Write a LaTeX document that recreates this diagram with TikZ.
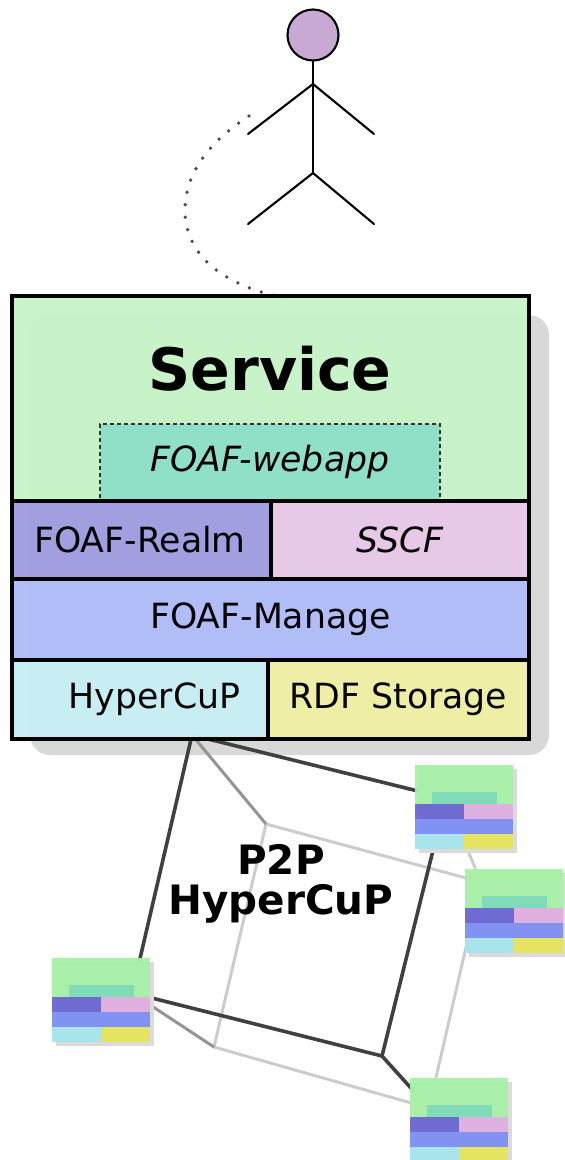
\documentclass[tikz,border=0pt]{standalone}
\usepackage{fontspec}
\setmainfont{DejaVu Sans}
\usepackage{tikz}
\usetikzlibrary{positioning}

\definecolor{headc}{HTML}{C8A9D4}
\definecolor{servicec}{HTML}{C8F4C8}
\definecolor{webappc}{HTML}{90DFC8}
\definecolor{realmc}{HTML}{A09EE0}
\definecolor{sscfc}{HTML}{E8C8E8}
\definecolor{managec}{HTML}{B0BDF8}
\definecolor{hypercupc}{HTML}{C8EEF4}
\definecolor{storagec}{HTML}{EFEFA5}
\definecolor{shadec}{HTML}{D8D8D8}
\definecolor{peergreen}{HTML}{A8F0A8}
\definecolor{peerteal}{HTML}{80DCB8}
\definecolor{peerviolet}{HTML}{6C68D0}
\definecolor{peerpink}{HTML}{E0B0E0}
\definecolor{peerblue}{HTML}{8090F4}
\definecolor{peercyan}{HTML}{A8E4EC}
\definecolor{peeryellow}{HTML}{E4E460}

\tikzset{
 layer/.style={draw=black, line width=3.4pt, anchor=north west, inner sep=0pt, outer sep=0pt, fill opacity=.98, font=\fontsize{34.7}{40}\selectfont},
 limb/.style={line width=2.1pt, line cap=round},
 frontedge/.style={line width=3.6pt, draw=black!75},
 midedge/.style={line width=3pt, draw=black!42},
 backedge/.style={line width=3pt, draw=black!20},
 peerpart/.style={anchor=north west, inner sep=0pt, outer sep=0pt, minimum height=15pt}
}

\begin{document}
\begin{tikzpicture}[x=1pt,y=-1pt]
 \useasboundingbox (0,0) rectangle (565,1160);
 % person
 \node (head) [circle, draw, line width=2.1pt, fill=headc, minimum size=51pt, inner sep=0pt] at (313,35) {};
 \coordinate (neck) at (313,84);
 \coordinate (hip) at (313,173);
 \coordinate (handl) at (248,134);
 \coordinate (handr) at (374,134);
 \coordinate (footl) at (248,224);
 \coordinate (footr) at (374,224);
 \draw[limb] (head) -- (neck) -- (hip);
 \draw[limb] (handl) -- (neck) -- (handr);
 \draw[limb] (footl) -- (hip) -- (footr);
 % link from person to service
 \coordinate (linkstart) at (249,116);
 \coordinate (linkmid) at (185,210);
 \coordinate (linkend) at (290,299);
 \draw[line width=3.8pt, line cap=round, dash pattern=on 0pt off 12.6pt, black!70]
  (linkstart) .. controls (207,143) and (185,175) .. (linkmid)
  .. controls (185,250) and (215,285) .. (linkend);
 % shadow
 \fill[shadec, rounded corners=20pt] (30,315) rectangle (549,755);
 % cube
 \coordinate (hc) at (192,735);
 \coordinate (back) at (266,824);
 \coordinate (low) at (214,1047);
 \coordinate (front) at (382,1056);
 \coordinate (pa) at (446,798);
 \coordinate (pb) at (481,882);
 \coordinate (pc) at (429,1108);
 \coordinate (pd) at (132,993);
 \draw[backedge] (back) -- (pb) -- (pc) -- (low) -- (back);
 \draw[backedge] (pa) -- (pb);
 \draw[midedge] (hc) -- (back);
 \draw[midedge] (pd) -- (low);
 \draw[frontedge] (hc) -- (pa) -- (front) -- (pd) -- (hc);
 \draw[frontedge] (front) -- (pc);
 % service stack
 \node (service) [layer, fill=servicec, minimum width=517pt, minimum height=205pt] at (12,296) {};
 \node (title) at (270,369) {\fontsize{58.5}{60}\selectfont\bfseries Service};
 \node (webapp) [draw=black!80, line width=1.6pt, dash pattern=on 4pt off 3pt, fill=webappc, anchor=north west, inner sep=0pt, outer sep=0pt, minimum width=340pt, minimum height=76pt, font=\fontsize{34.7}{40}\selectfont\itshape] at (100,424) {\raisebox{-1.5pt}{FOAF-webapp}};
 \node (realm) [layer, fill=realmc, minimum width=259pt, minimum height=78pt] at (12,501) {\hspace*{-3pt}\raisebox{-1pt}{FOAF-Realm}};
 \node (sscf) [layer, fill=sscfc, minimum width=258pt, minimum height=78pt, font=\fontsize{34.7}{40}\selectfont\itshape] at (271,501) {\raisebox{-1pt}{SSCF}};
 \node (manage) [layer, fill=managec, minimum width=517pt, minimum height=81pt] at (12,579) {\raisebox{-1pt}{FOAF-Manage}};
 \node (hypercup) [layer, fill=hypercupc, minimum width=256pt, minimum height=79pt] at (12,660) {\hspace*{29pt}\raisebox{-1pt}{HyperCuP}};
 \node (storage) [layer, fill=storagec, minimum width=261pt, minimum height=79pt] at (268,660) {\raisebox{-1pt}{RDF Storage}};
 % peers
 \foreach \peer/\px/\py in {peera/415/765, peerb/465/869, peerc/410/1078, peerd/52/958}
 {
  \fill[black!14] (\px+4,\py+4) rectangle (\px+102,\py+88);
  \node (\peer-top) [peerpart, fill=peergreen, fill opacity=.97, minimum width=98pt, minimum height=39pt] at (\px,\py) {};
  \node (\peer-app) [peerpart, fill=peerteal, minimum width=65pt, minimum height=12pt] at (\px+17,\py+27) {};
  \node (\peer-realm) [peerpart, fill=peerviolet, fill opacity=.97, minimum width=49pt, below=0pt of \peer-top.south west, anchor=north west] {};
  \node (\peer-sscf) [peerpart, fill=peerpink, minimum width=49pt, right=0pt of \peer-realm] {};
  \node (\peer-manage) [peerpart, fill=peerblue, fill opacity=.97, minimum width=98pt, below=0pt of \peer-realm.south west, anchor=north west] {};
  \node (\peer-hyper) [peerpart, fill=peercyan, minimum width=49pt, below=0pt of \peer-manage.south west, anchor=north west] {};
  \node (\peer-store) [peerpart, fill=peeryellow, minimum width=49pt, right=0pt of \peer-hyper] {};
 }
 \node (p2p) [align=center, font=\fontsize{40.5}{40}\selectfont\bfseries] at (281,884) {P2P\\HyperCuP};
\end{tikzpicture}
\end{document}
